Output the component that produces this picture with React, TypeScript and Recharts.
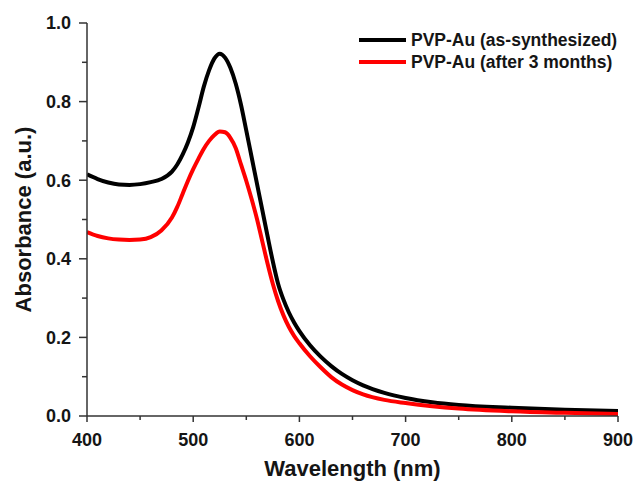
import React from 'react';
import { LineChart, Line, XAxis, YAxis, Legend } from 'recharts';

const wavelengths = [400, 410, 420, 430, 440, 450, 460, 470, 480, 485, 490, 495, 500, 505, 510, 515, 520, 525, 530, 535, 540, 545, 550, 555, 560, 565, 570, 575, 580, 585, 590, 595, 600, 610, 620, 630, 640, 650, 660, 680, 700, 725, 750, 800, 850, 900];

const asSynthesized = [0.615, 0.603, 0.594, 0.589, 0.588, 0.590, 0.595, 0.603, 0.622, 0.640, 0.665, 0.696, 0.735, 0.785, 0.838, 0.880, 0.910, 0.922, 0.912, 0.886, 0.846, 0.792, 0.726, 0.659, 0.592, 0.525, 0.458, 0.393, 0.336, 0.296, 0.264, 0.238, 0.216, 0.180, 0.151, 0.127, 0.107, 0.091, 0.078, 0.059, 0.046, 0.035, 0.028, 0.021, 0.016, 0.013];

const afterThreeMonths = [0.468, 0.458, 0.452, 0.449, 0.448, 0.449, 0.455, 0.472, 0.505, 0.532, 0.565, 0.598, 0.628, 0.655, 0.680, 0.700, 0.715, 0.724, 0.722, 0.708, 0.682, 0.640, 0.598, 0.552, 0.502, 0.445, 0.388, 0.336, 0.292, 0.256, 0.227, 0.204, 0.185, 0.152, 0.124, 0.099, 0.080, 0.066, 0.055, 0.041, 0.033, 0.025, 0.019, 0.012, 0.008, 0.005];

const seriesNames = ['PVP-Au (as-synthesized)', 'PVP-Au (after 3 months)'];
const seriesColors = ['#000000', '#ff0000'];

const xTicks = [400, 450, 500, 550, 600, 650, 700, 750, 800, 850, 900];
const xLabelTicks = [400, 500, 600, 700, 800, 900];
const yTicks = [0, 0.1, 0.2, 0.3, 0.4, 0.5, 0.6, 0.7, 0.8, 0.9, 1.0];
const yLabelTicks = [0, 0.2, 0.4, 0.6, 0.8, 1.0];

const xTitle = 'Wavelength (nm)';
const yTitle = 'Absorbance (a.u.)';

const data = wavelengths.map((w, i) => ({
  w,
  a: asSynthesized[i],
  b: afterThreeMonths[i],
}));

const FONT = '"Liberation Sans", Arial, Helvetica, sans-serif';
const AXIS_COLOR = '#333333';
const TEXT_COLOR = '#151515';

const X_TICK_SIZE = 7;
const X_TICK_MARGIN = 10;
const Y_TICK_SIZE = 7;
const Y_TICK_MARGIN = 9;

const isMajor = (v: number, majors: number[]) => majors.some((m) => Math.abs(m - v) < 1e-9);

const XTick = (props: any) => {
  const { x, y, payload } = props;
  const axisY = y - X_TICK_SIZE - X_TICK_MARGIN;
  const major = isMajor(payload.value, xLabelTicks);
  return (
    <g>
      <line x1={x} x2={x} y1={axisY} y2={axisY + (major ? 6 : 4)} stroke={AXIS_COLOR} strokeWidth={1.5} />
      {major && (
        <text x={x} y={axisY + 30} textAnchor="middle" fontFamily={FONT} fontWeight={700} fontSize={18} fill={TEXT_COLOR}>
          {payload.value}
        </text>
      )}
    </g>
  );
};

const YTick = (props: any) => {
  const { x, y, payload } = props;
  const axisX = x + Y_TICK_SIZE + Y_TICK_MARGIN;
  const major = isMajor(payload.value, yLabelTicks);
  return (
    <g>
      <line x1={axisX} x2={axisX - (major ? 8 : 5)} y1={y} y2={y} stroke={AXIS_COLOR} strokeWidth={1.5} />
      {major && (
        <text x={axisX - 16} y={y} dy="0.36em" textAnchor="end" fontFamily={FONT} fontWeight={700} fontSize={18} fill={TEXT_COLOR}>
          {Number(payload.value).toFixed(1)}
        </text>
      )}
    </g>
  );
};

const renderLegend = (props: any) => {
  const items = [...(props.payload || [])].sort(
    (p: any, q: any) => seriesNames.indexOf(p.value) - seriesNames.indexOf(q.value)
  );
  return (
    <div style={{ fontFamily: FONT, fontWeight: 700, fontSize: 17.5, color: TEXT_COLOR }}>
      {items.map((entry: any) => (
        <div key={entry.value} style={{ display: 'flex', alignItems: 'center', height: 22, whiteSpace: 'nowrap' }}>
          <span style={{ display: 'inline-block', width: 47, height: 4, background: entry.color, marginRight: 5 }} />
          <span>{entry.value}</span>
        </div>
      ))}
    </div>
  );
};

export default function App() {
  return (
    <div style={{ position: 'absolute', left: 0, top: 0 }}>
      <LineChart width={634} height={482} data={data} margin={{ top: 23, right: 16, bottom: 0, left: 0 }}>
        <XAxis
          dataKey="w"
          type="number"
          domain={[400, 900]}
          ticks={xTicks}
          interval={0}
          height={66}
          tickSize={X_TICK_SIZE}
          tickMargin={X_TICK_MARGIN}
          tickLine={false}
          tick={<XTick />}
          axisLine={{ stroke: AXIS_COLOR, strokeWidth: 1.5 }}
          allowDataOverflow
          label={{ value: xTitle, position: 'insideBottom', offset: 6, fontFamily: FONT, fontWeight: 700, fontSize: 22, fill: TEXT_COLOR }}
        />
        <YAxis
          type="number"
          domain={[0, 1]}
          ticks={yTicks}
          interval={0}
          width={87}
          tickSize={Y_TICK_SIZE}
          tickMargin={Y_TICK_MARGIN}
          tickLine={false}
          tick={<YTick />}
          axisLine={{ stroke: AXIS_COLOR, strokeWidth: 1.5 }}
          allowDataOverflow
          label={{ value: yTitle, angle: -90, position: 'insideLeft', offset: 23, style: { textAnchor: 'middle' }, fontFamily: FONT, fontWeight: 700, fontSize: 22, fill: TEXT_COLOR }}
        />
        <Legend
          layout="vertical"
          align="center"
          verticalAlign="middle"
          content={renderLegend}
          wrapperStyle={{ left: 359, top: 29, width: 270 }}
        />
        <Line type="monotone" dataKey="a" name={seriesNames[0]} stroke={seriesColors[0]} strokeWidth={4} dot={false} isAnimationActive={false} />
        <Line type="monotone" dataKey="b" name={seriesNames[1]} stroke={seriesColors[1]} strokeWidth={4} dot={false} isAnimationActive={false} />
      </LineChart>
    </div>
  );
}
